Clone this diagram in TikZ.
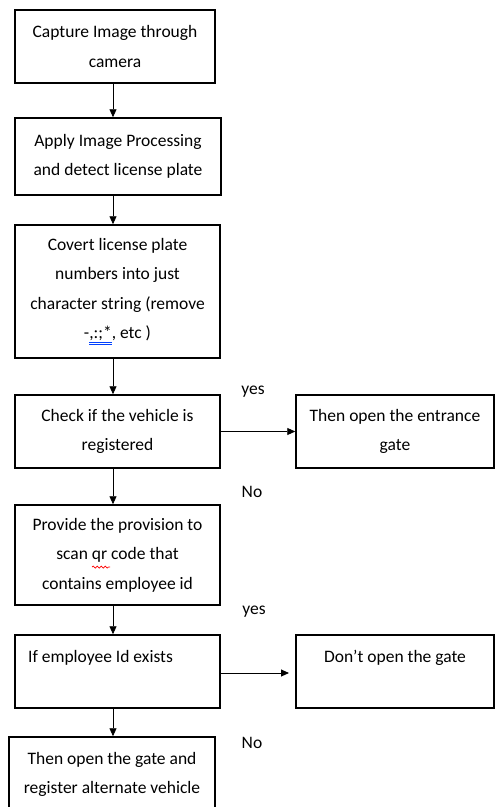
\documentclass[tikz,border=0pt]{standalone}
\usepackage{fontspec}
\setmainfont{Carlito}
\usetikzlibrary{arrows.meta,decorations.pathmorphing}
\begin{document}
\begin{tikzpicture}[x=1pt,y=-1pt,
  box/.style={draw, line width=1.5pt, align=center, inner sep=2pt,
    font=\fontsize{17.5}{29.5}\selectfont},
  arr/.style={-{Triangle[length=8pt,width=7pt]}, line width=0.9pt},
  lbl/.style={font=\fontsize{17.5}{21}\selectfont, inner sep=0pt},
  squiggle/.style={red, line width=0.7pt, decorate,
    decoration={snake, amplitude=1pt, segment length=4pt}}]
\useasboundingbox (0,0) rectangle (495,807);
\coordinate (ax) at (113,0);
\node[box, minimum width=200pt, minimum height=73pt] (b1) at (115,46.5)
  {Capture Image through\\camera};
\node[box, minimum width=206pt, minimum height=77pt] (b2) at (118,156.5)
  {Apply Image Processing\\and detect license plate};
\node[box, minimum width=205pt, minimum height=133pt] (b3) at (117.5,291.5)
  {Covert license plate\\numbers into just\\character string (remove\\-{\color{blue!75!cyan}\underline{\underline{\color{black},:;*}}}, etc )};
\node[box, minimum width=205pt, minimum height=73pt] (b4) at (117.5,431.5)
  {Check if the vehicle is\\registered};
\node[box, minimum width=198pt, minimum height=73pt] (r1) at (395,431.5)
  {Then open the entrance\\gate};
\node[box, minimum width=205pt, minimum height=100pt] (b5) at (117.5,555)
  {Provide the provision to\\scan qr code that\\contains employee id};
\node[box, minimum width=205pt, minimum height=73pt] (b6) at (117.5,671.5)
  {If employee Id exists\kern34pt\\\mbox{}};
\node[box, minimum width=198pt, minimum height=73pt] (r2) at (395,671.5)
  {Don’t open the gate\\\mbox{}};
\node[box, minimum width=206pt, minimum height=75pt] (b7) at (112,774.5)
  {Then open the gate and\\register alternate vehicle};
\coordinate (e2) at (289,673);
\coordinate (w1) at (92,567);
\coordinate (w2) at (110,567);
\draw[squiggle] (w1) -- (w2);
\draw[arr] (b1.south -| ax) -- (b2.north -| ax);
\draw[arr] (b2.south -| ax) -- (b3.north -| ax);
\draw[arr] (b3.south -| ax) -- (b4.north -| ax);
\draw[arr] (b4.south -| ax) -- (b5.north -| ax);
\draw[arr] (b5.south -| ax) -- (b6.north -| ax);
\draw[arr] (b6.south -| ax) -- (b7.north -| ax);
\draw[arr] (b4.east) -- (r1.west);
\draw[arr] (b6.east |- e2) -- (e2);
\node[lbl] (yes1) at (253,392) {yes};
\node[lbl] (no1) at (252,492) {No};
\node[lbl] (yes2) at (254,612) {yes};
\node[lbl] (no2) at (252,743) {No};
\end{tikzpicture}
\end{document}
